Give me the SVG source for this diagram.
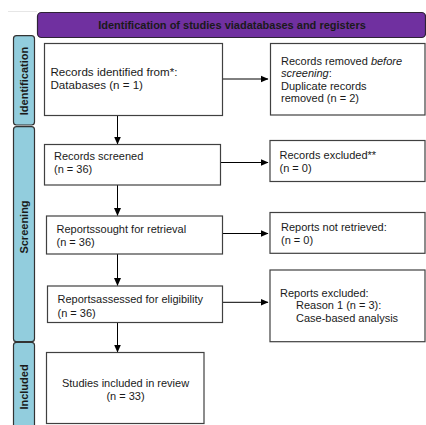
<svg xmlns="http://www.w3.org/2000/svg" width="426" height="425" viewBox="0 0 426 425">
<style>
.t{font-family:"Liberation Sans",Arial,sans-serif;font-size:11px;fill:#1a1a1a}
.tl{font-size:11.6px}
.tb{font-family:"Liberation Sans",Arial,sans-serif;font-size:11px;font-weight:bold;fill:#1a1a1a}
.box{fill:#fff;stroke:#404040;stroke-width:1.2}
.tab{fill:#92cddd;stroke:#333;stroke-width:1.2}
.ln{stroke:#000;stroke-width:1;fill:none}
</style>
<defs>
<marker id="ah" viewBox="0 0 8 8" refX="7.5" refY="4" markerWidth="8" markerHeight="8" markerUnits="userSpaceOnUse" orient="auto">
<path d="M0,0.5 L8,4 L0,7.5 Z" fill="#000"/>
</marker>
</defs>
<rect width="426" height="425" fill="#fff"/>
<path d="M8,11.5 H37" stroke="#e6e6e6" stroke-width="1" fill="none"/>
<g id="header">
<rect x="37.5" y="12.5" width="388" height="25" rx="4" fill="#7030a0" stroke="#2e2236" stroke-width="1.2"/>
<text class="tb" x="232" y="29" text-anchor="middle">Identification of studies viadatabases and registers</text>
</g>
<g id="tab-identification">
<rect class="tab" x="13.5" y="35.7" width="21" height="89.3" rx="3"/>
<text class="tb" transform="translate(28,81) rotate(-90)" text-anchor="middle">Identification</text>
</g>
<g id="tab-screening">
<rect class="tab" x="13.5" y="126.7" width="21" height="215" rx="3"/>
<text class="tb" transform="translate(28,227) rotate(-90)" text-anchor="middle">Screening</text>
</g>
<g id="tab-included">
<rect class="tab" x="13.5" y="342.3" width="21" height="95" rx="3"/>
<text class="tb" transform="translate(28,387) rotate(-90)" text-anchor="middle">Included</text>
</g>
<g id="connectors">
<path class="ln" d="M202,79 H268" marker-end="url(#ah)"/>
<path class="ln" d="M117.5,115.5 V144" marker-end="url(#ah)"/>
<path class="ln" d="M220.5,162.5 H268" marker-end="url(#ah)"/>
<path class="ln" d="M117.5,185 V215.5" marker-end="url(#ah)"/>
<path class="ln" d="M222.5,233.5 H268" marker-end="url(#ah)"/>
<path class="ln" d="M117.5,254 V285.5" marker-end="url(#ah)"/>
<path class="ln" d="M222.5,302.3 H268" marker-end="url(#ah)"/>
<path class="ln" d="M117.5,322.5 V352" marker-end="url(#ah)"/>
</g>
<g id="records-identified">
<rect class="box" x="44.5" y="43.5" width="178" height="72"/>
<text class="t tl" x="50.5" y="75.5">Records identified from*:</text>
<text class="t tl" x="50.5" y="88.5">Databases (n = 1)</text>
</g>
<g id="records-removed">
<rect class="box" x="270.5" y="43.5" width="154.5" height="71.5"/>
<text class="t" x="281" y="65">Records removed <tspan font-style="italic">before</tspan></text>
<text class="t" x="281" y="77"><tspan font-style="italic">screening</tspan>:</text>
<text class="t" x="281" y="89.5">Duplicate records</text>
<text class="t" x="281" y="102">removed  (n = 2)</text>
</g>
<g id="records-screened">
<rect class="box" x="44.5" y="144.5" width="176" height="40.5"/>
<text class="t" x="54" y="160">Records screened</text>
<text class="t" x="54" y="173">(n = 36)</text>
</g>
<g id="records-excluded">
<rect class="box" x="270" y="140.5" width="155" height="41"/>
<text class="t" x="279.5" y="159">Records excluded**</text>
<text class="t" x="279.5" y="171.5">(n = 0)</text>
</g>
<g id="reports-sought">
<rect class="box" x="46.5" y="216" width="176" height="38"/>
<text class="t" x="56.5" y="233">Reportssought for retrieval</text>
<text class="t" x="56.5" y="245.5">(n = 36)</text>
</g>
<g id="reports-not-retrieved">
<rect class="box" x="270" y="212.5" width="155" height="40.8"/>
<text class="t" x="281" y="230.5">Reports not retrieved:</text>
<text class="t" x="281" y="244">(n = 0)</text>
</g>
<g id="reports-assessed">
<rect class="box" x="47.5" y="286" width="175" height="36.5"/>
<text class="t" x="57.5" y="303">Reportsassessed for eligibility</text>
<text class="t" x="57.5" y="316.5">(n = 36)</text>
</g>
<g id="reports-excluded">
<rect class="box" x="270" y="270" width="155" height="71.7"/>
<text class="t" x="280" y="296.7">Reports excluded:</text>
<text class="t" x="296" y="309.3">Reason 1 (n = 3):</text>
<text class="t" x="296" y="321.7">Case-based analysis</text>
</g>
<g id="studies-included">
<rect class="box" x="46.5" y="352.5" width="157.5" height="71"/>
<text class="t" x="125.5" y="386.5" text-anchor="middle">Studies included in review</text>
<text class="t" x="125.5" y="400" text-anchor="middle">(n = 33)</text>
</g>
</svg>
